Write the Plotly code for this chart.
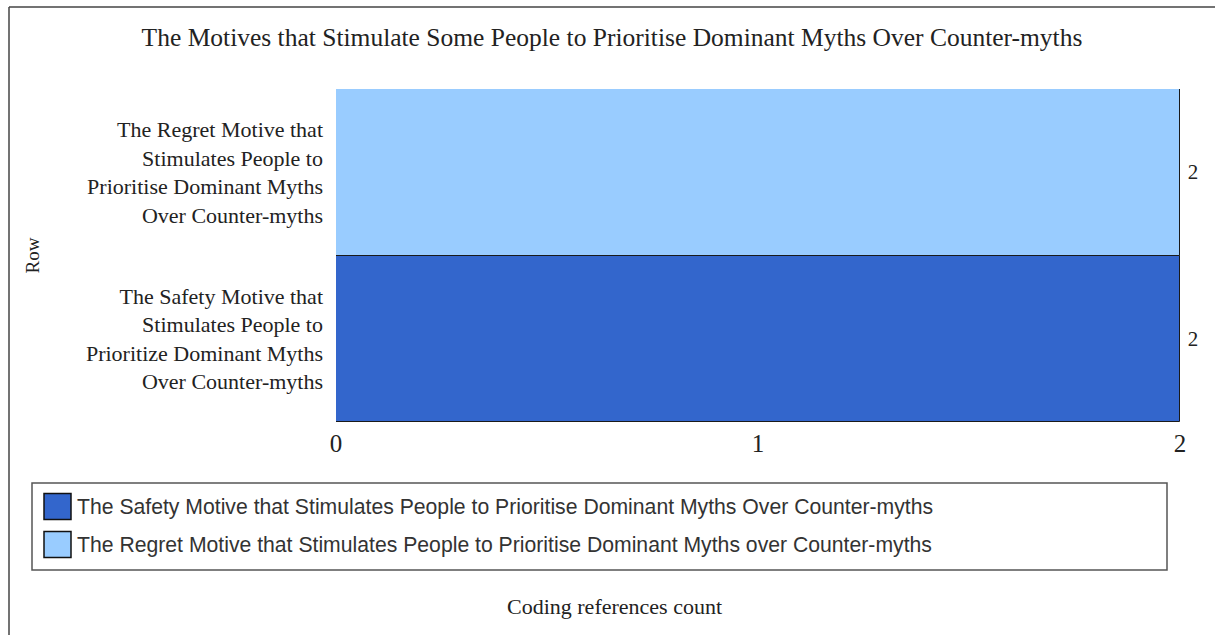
import plotly.graph_objects as go

# ---- data ----
row_labels = [
    "The Safety Motive that<br>Stimulates People to<br>Prioritize Dominant Myths<br>Over Counter-myths",
    "The Regret Motive that<br>Stimulates People to<br>Prioritise Dominant Myths<br>Over Counter-myths",
]
series_names = [
    "The Safety Motive that Stimulates People to Prioritise Dominant Myths Over Counter-myths",
    "The Regret Motive that Stimulates People to Prioritise Dominant Myths over Counter-myths",
]
counts = [2, 2]
series_colors = ["#3366CC", "#99CCFF"]
x_ticks = [0, 1, 2]

title_text = "The Motives that Stimulate Some People to Prioritise Dominant Myths Over Counter-myths"
x_title = "Coding references count"
y_title = "Row"

# ---- layout geometry (pixels) ----
W, H = 1215, 635
L, R, T, B = 336, 1180, 89, 422


def px(x):
    return (x - L) / (R - L)


def py(y):
    return (B - y) / (B - T)


SERIF = "Liberation Serif, Times New Roman, serif"
SANS = "Liberation Sans, Arial, sans-serif"
TXT = "#222222"

fig = go.Figure()
for name, lab, val, col in zip(series_names, row_labels, counts, series_colors):
    fig.add_trace(go.Bar(
        x=[val], y=[lab], orientation="h", name=name,
        marker=dict(color=col, line=dict(color="#1a1a1a", width=1)),
        width=1,
        text=[val], texttemplate=" %{x}", textposition="outside",
        constraintext="none",
        textfont=dict(family=SERIF, size=21, color=TXT),
        outsidetextfont=dict(family=SERIF, size=21, color=TXT),
        cliponaxis=False, showlegend=False,
    ))

shapes = []
annotations = []

# outer frame (left and top edges)
shapes.append(dict(type="line", xref="paper", yref="paper",
                   x0=px(9), x1=px(9), y0=py(7), y1=py(W), line=dict(color="#444", width=1.5)))
shapes.append(dict(type="line", xref="paper", yref="paper",
                   x0=px(9), x1=px(W + 10), y0=py(7), y1=py(7), line=dict(color="#444", width=1.5)))

# legend box
shapes.append(dict(type="rect", xref="paper", yref="paper",
                   x0=px(32), x1=px(1167), y0=py(483), y1=py(570),
                   line=dict(color="#555", width=1.5), fillcolor="rgba(0,0,0,0)"))
row_centers = [506.5, 544.5]
for name, col, cy in zip(series_names, series_colors, row_centers):
    shapes.append(dict(type="rect", xref="paper", yref="paper",
                       x0=px(44), x1=px(71), y0=py(cy - 13), y1=py(cy + 13),
                       line=dict(color="#111", width=1.5), fillcolor=col))
    annotations.append(dict(xref="paper", yref="paper", x=px(75), y=py(cy),
                            xanchor="left", yanchor="middle", showarrow=False,
                            text=name, font=dict(family=SANS, size=21.2, color="#333")))

# x axis title centred on figure
annotations.append(dict(xref="paper", yref="paper", x=px(614), y=py(606),
                        xanchor="center", yanchor="middle", showarrow=False,
                        text=x_title, font=dict(family=SERIF, size=22, color=TXT)))

fig.update_layout(
    width=W, height=H,
    margin=dict(l=L, r=W - R, t=T, b=H - B, autoexpand=False),
    paper_bgcolor="white", plot_bgcolor="white",
    barmode="overlay", bargap=0,
    title=dict(text=title_text, x=612 / W, xref="container", xanchor="center",
               y=1 - 37 / H, yref="container", yanchor="middle",
               font=dict(family=SERIF, size=25.5, color=TXT)),
    xaxis=dict(range=[0, 2], tickvals=x_ticks, showgrid=False, zeroline=False,
               showline=False, ticks="", ticklabelstandoff=4,
               tickfont=dict(family=SERIF, size=25, color=TXT), automargin=False),
    yaxis=dict(type="category", categoryorder="array", categoryarray=row_labels,
               range=[-0.5, 1.5], showgrid=False, zeroline=False, showline=False,
               ticks="", ticklabelstandoff=12, automargin=False,
               tickfont=dict(family=SERIF, size=22, color=TXT),
               title=dict(text=y_title, standoff=41,
                          font=dict(family=SERIF, size=19, color=TXT))),
    shapes=shapes, annotations=annotations,
)

fig.write_html("out.html")
